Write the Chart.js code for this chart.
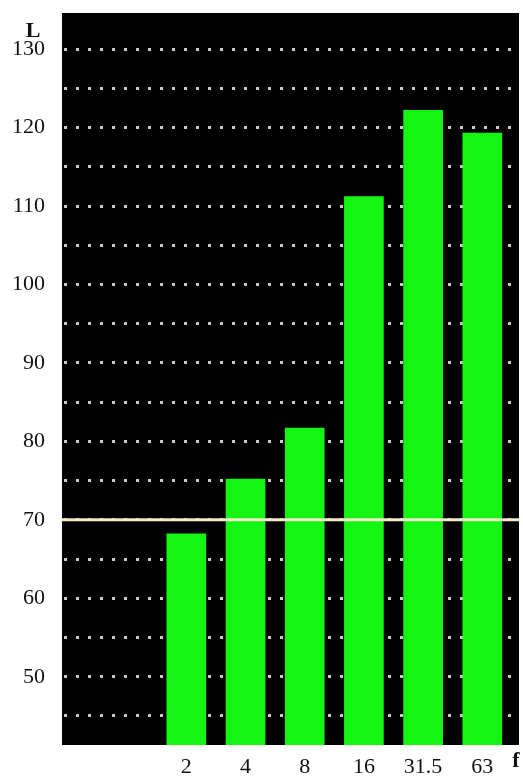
<!DOCTYPE html>
<html>
<head>
<meta charset="utf-8">
<script src="https://cdn.jsdelivr.net/npm/chart.js@4"></script>
<style>
  html, body { margin: 0; padding: 0; background: #fff; }
  #wrap { width: 523px; height: 776px; }
</style>
</head>
<body>
<div id="wrap"><canvas id="chart" width="523" height="776"></canvas></div>
<script>
// frequency bands and levels
const freqLabels = ['2', '4', '8', '16', '31.5', '63'];
const levels = [68.2, 75.2, 81.7, 111.2, 122.2, 119.3];
const gridValues = [45, 50, 55, 60, 65, 70, 75, 80, 85, 90, 95, 100, 105, 110, 115, 120, 125, 130];
const refLevel = 70;
const yTitle = 'L';
const xTitle = 'f';

const serif = '"Liberation Serif", "DejaVu Serif", serif';

// black plot background, limit line and axis letters
const decor = {
    id: 'decor',
    beforeDraw(chart) {
        const a = chart.chartArea;
        const ctx = chart.ctx;
        ctx.save();
        ctx.fillStyle = '#000';
        ctx.fillRect(a.left, a.top, a.right - a.left, a.bottom - a.top);
        ctx.restore();
    },
    afterDatasetsDraw(chart) {
        const a = chart.chartArea;
        const ctx = chart.ctx;
        const y = chart.scales.y.getPixelForValue(refLevel);
        ctx.save();
        ctx.strokeStyle = '#f3ecc8';
        ctx.lineWidth = 3;
        ctx.beginPath();
        ctx.moveTo(a.left, y);
        ctx.lineTo(a.right, y);
        ctx.stroke();
        ctx.restore();
    },
    afterDraw(chart) {
        const ctx = chart.ctx;
        ctx.save();
        ctx.fillStyle = '#111';
        ctx.font = 'bold 22px ' + serif;
        ctx.textAlign = 'center';
        ctx.textBaseline = 'middle';
        ctx.fillText(yTitle, 33, 31);
        ctx.fillText(xTitle, 516, 761);
        ctx.restore();
    }
};

new Chart(document.getElementById('chart'), {
    type: 'bar',
    data: {
        datasets: [{
            data: levels.map((v, i) => ({ x: i + 1, y: v })),
            backgroundColor: '#14f514',
            borderWidth: 0,
            barThickness: 39
        }]
    },
    options: {
        responsive: false,
        animation: false,
        layout: { padding: { top: 13, right: 4, left: 0, bottom: 0 } },
        plugins: {
            legend: { display: false },
            tooltip: { enabled: false }
        },
        scales: {
            x: {
                type: 'linear',
                offset: false,
                min: -1.1,
                max: 6.62,
                afterBuildTicks: scale => {
                    scale.ticks = freqLabels.map((_, i) => ({ value: i + 1 }));
                },
                afterFit: scale => {
                    scale.height = 31;
                    scale.paddingLeft = 0;
                    scale.paddingRight = 0;
                },
                grid: { display: false, drawTicks: false },
                border: { display: false },
                ticks: {
                    autoSkip: false,
                    maxRotation: 0,
                    padding: 9,
                    color: '#111',
                    font: { family: serif, size: 22 },
                    callback: v => freqLabels[v - 1] || ''
                }
            },
            y: {
                min: 41.3,
                max: 134.6,
                afterBuildTicks: scale => {
                    scale.ticks = gridValues.map(v => ({ value: v }));
                },
                afterFit: scale => {
                    scale.width = 62;
                    scale.paddingTop = 0;
                    scale.paddingBottom = 0;
                },
                grid: {
                    color: 'rgba(225,225,215,0.9)',
                    lineWidth: 3,
                    drawTicks: false
                },
                border: { display: false, dash: [3, 9], dashOffset: -2 },
                ticks: {
                    autoSkip: false,
                    padding: 17,
                    color: '#111',
                    font: { family: serif, size: 22 },
                    callback: v => (v % 10 === 0 ? v : '')
                }
            }
        }
    },
    plugins: [decor]
});
</script>
</body>
</html>
